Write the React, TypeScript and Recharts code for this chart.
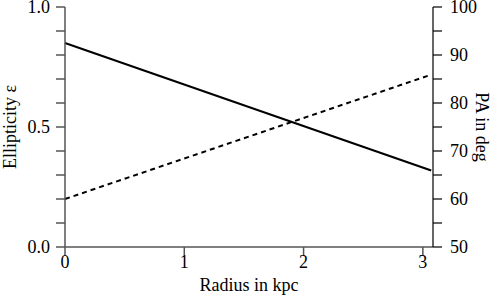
import { ComposedChart, Line, XAxis, YAxis } from "recharts";

const radius = [0, 3.07];
const ellipticity = [0.85, 0.319];
const positionAngle = [60, 85.9];

const epsTicks = [0, 0.1, 0.2, 0.3, 0.4, 0.5, 0.6, 0.7, 0.8, 0.9, 1.0];
const epsLabels = [0, 0.5, 1.0];
const paTicks = [50, 55, 60, 65, 70, 75, 80, 85, 90, 95, 100];
const paLabels = [50, 60, 70, 80, 90, 100];
const radiusTicks = [0, 1, 2, 3];

const data = radius.map((r, i) => ({ r, eps: ellipticity[i], pa: positionAngle[i] }));

const FONT = "'Liberation Serif', 'DejaVu Serif', serif";
const AXIS = "#555";
const INK = "#000";

function LeftTick(props: any) {
  const { x, y, payload } = props;
  if (!epsLabels.some((v) => Math.abs(v - payload.value) < 1e-6)) return null;
  return (
    <text x={x - 4} y={y} dy={6} textAnchor="end" fontFamily={FONT} fontSize={18} fill={INK}>
      {payload.value.toFixed(1)}
    </text>
  );
}

function RightTick(props: any) {
  const { x, y, payload } = props;
  if (!paLabels.includes(payload.value)) return null;
  return (
    <text x={x + 6} y={y} dy={6} textAnchor="start" fontFamily={FONT} fontSize={18} fill={INK}>
      {payload.value}
    </text>
  );
}

function BottomTick(props: any) {
  const { x, y, payload } = props;
  return (
    <text x={x} y={y} dy={12} textAnchor="middle" fontFamily={FONT} fontSize={18} fill={INK}>
      {payload.value}
    </text>
  );
}

export default function App() {
  return (
    <div style={{ position: "absolute", left: 0, top: 0, background: "#fff" }}>
      <ComposedChart
        width={494}
        height={295}
        data={data}
        margin={{ top: 7, right: 0, bottom: 0, left: 0 }}
      >
        <XAxis
          dataKey="r"
          type="number"
          domain={[0, 3.085]}
          ticks={radiusTicks}
          tickSize={9}
          tickMargin={0}
          height={48}
          stroke={AXIS}
          strokeWidth={1.5}
          tick={<BottomTick />}
          label={{
            value: "Radius in kpc",
            position: "insideBottom",
            offset: 4,
            fontFamily: FONT,
            fontSize: 18,
            fill: INK,
          }}
        />
        <XAxis
          xAxisId="top"
          dataKey="r"
          type="number"
          orientation="top"
          domain={[0, 3.085]}
          tick={false}
          tickLine={false}
          height={0}
          stroke={AXIS}
          strokeWidth={1.5}
        />
        <YAxis
          yAxisId="eps"
          type="number"
          domain={[0, 1]}
          ticks={epsTicks}
          interval={0}
          width={65}
          tickSize={9}
          stroke={AXIS}
          strokeWidth={1.5}
          tick={<LeftTick />}
          label={{
            value: "Ellipticity ε",
            angle: -90,
            position: "insideLeft",
            offset: 10,
            style: { textAnchor: "middle" },
            fontFamily: FONT,
            fontSize: 18,
            fill: INK,
          }}
        />
        <YAxis
          yAxisId="pa"
          orientation="right"
          type="number"
          domain={[50, 100]}
          ticks={paTicks}
          interval={0}
          width={61}
          tickSize={9}
          stroke={INK}
          strokeWidth={1.2}
          tick={<RightTick />}
          label={{
            value: "PA in deg",
            angle: 90,
            position: "insideRight",
            offset: 12,
            style: { textAnchor: "middle" },
            fontFamily: FONT,
            fontSize: 18,
            fill: INK,
          }}
        />
        <Line
          yAxisId="eps"
          dataKey="eps"
          type="linear"
          stroke="#000"
          strokeWidth={2}
          dot={false}
          isAnimationActive={false}
        />
        <Line
          yAxisId="pa"
          dataKey="pa"
          type="linear"
          stroke="#000"
          strokeWidth={2}
          strokeDasharray="5 4"
          dot={false}
          isAnimationActive={false}
        />
      </ComposedChart>
    </div>
  );
}
